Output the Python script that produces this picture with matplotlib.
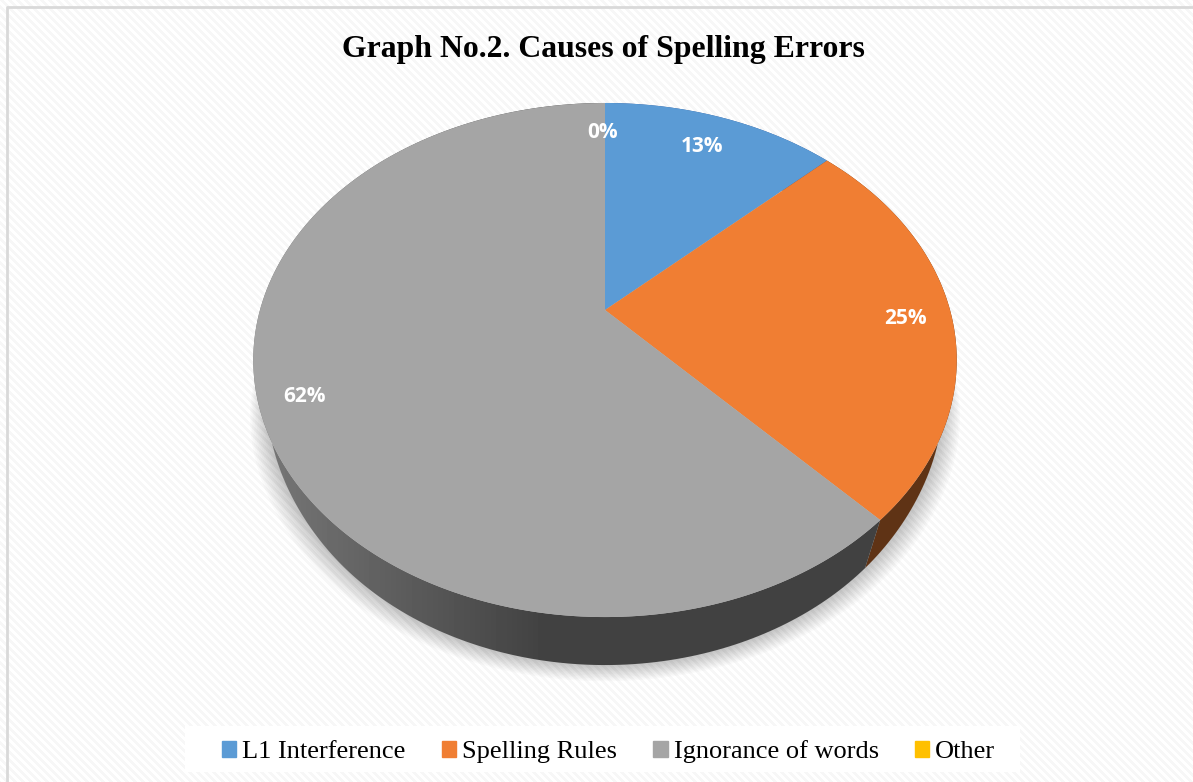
import numpy as np
import matplotlib
matplotlib.use('Agg')
import matplotlib.pyplot as plt
from matplotlib.patches import Patch, Polygon

categories = ['L1 Interference', 'Spelling Rules', 'Ignorance of words', 'Other']
shares = [13, 25, 62, 0]
colors = ['#5B9BD5', '#F07E33', '#A5A5A5', '#FFC000']
wall_colors = ['#2F5597', '#5F3315', None, '#806000']
title = 'Graph No.2. Causes of Spelling Errors'

label_pos = [(702, 146), (905, 319), (304, 396), (603, 133)]

# pie geometry in pixels, the tilt is a projective map of the unit circle
cx, cy = 605, 310
K, k, c = 345, 247.3, 0.1946
depth, shrink = 48, 0.945


def rim(theta, lower=False):
    x, y = np.sin(theta), np.cos(theta)
    d = 1 + c * y
    u, v = K * x / d, k * y / d
    if lower:
        # lower rim bulges a bit at the sides so the wall starts higher up
        s = shrink + 0.018 * np.clip((np.abs(x) - 0.685) / 0.315, 0, 1) ** 3
        return cx + s * u, cy - v + depth
    return cx + u, cy - v


W, H = 1193, 782
fig = plt.figure(figsize=(W / 100, H / 100), dpi=100)
ax = fig.add_axes([0, 0, 1, 1])
ax.set_xlim(0, W)
ax.set_ylim(H, 0)
ax.axis('off')

# striped background
yy, xx = np.mgrid[0:H, 0:W]
stripes = np.where((xx - yy) % 8 < 4, 0.965, 1.0)
ax.imshow(stripes, cmap='gray', vmin=0, vmax=1, extent=(0, W, H, 0), aspect='auto', zorder=0,
          interpolation='bilinear')
# frame, only top and left are inside the picture
ax.plot([7, 7, W], [H, 7, 7], color='#D9D9D9', lw=2, zorder=1)

# soft shadow below the pie
t = np.linspace(0, 2 * np.pi, 400)
lx, ly = rim(t, lower=True)
for grow in np.arange(17, 0, -1.5):
    ax.fill(cx + (lx - cx) * (1 + grow / 335), ly + grow * 0.95, color='black', alpha=0.02, lw=0, zorder=2)

# side wall, only the front part shows
edges = np.cumsum([0] + shares) / 100 * 2 * np.pi
for i in range(len(shares)):
    if shares[i] == 0:
        continue
    a = np.linspace(edges[i], edges[i + 1], 300)
    tx, ty = rim(a)
    bx, by = rim(a, lower=True)
    wall = np.column_stack([np.r_[tx, bx[::-1]], np.r_[ty, by[::-1]]])
    if wall_colors[i] is None:
        grad = np.clip((xx[0] - 270) / 270, 0, 1)
        shade = 0.46 - grad * (0.46 - 0.26)
        im = ax.imshow(shade[None, :], cmap='gray', vmin=0, vmax=1, extent=(0, W, H, 0), aspect='auto', zorder=3)
        im.set_clip_path(Polygon(wall, transform=ax.transData))
    else:
        ax.fill(wall[:, 0], wall[:, 1], color=wall_colors[i], lw=0, zorder=3)

# top face
for i in range(len(shares)):
    a = np.linspace(edges[i], edges[i + 1], 300)
    tx, ty = rim(a)
    ax.fill(np.r_[cx, tx], np.r_[cy, ty], color=colors[i], lw=0, zorder=4)

for i in range(len(shares)):
    ax.text(label_pos[i][0], label_pos[i][1], f'{shares[i]}%', color='white', fontsize=15, fontweight='bold',
            family='Open Sans', ha='center', va='center', zorder=5)

ax.text(603.5, 49, title, family='Liberation Serif', fontweight='bold', fontsize=22.9, ha='center', va='center',
        zorder=5)

ax.set_xlim(0, W)
ax.set_ylim(H, 0)

# legend band
ax.fill([185, 1020, 1020, 185], [726, 726, 772, 772], color='white', lw=0, zorder=5)
handles = [Patch(color=col) for col in colors]
leg = ax.legend(handles, categories, ncol=4, loc='center', bbox_to_anchor=(608.5, 752),
                bbox_transform=ax.transData, frameon=False, handlelength=0.55, handleheight=0.55,
                handletextpad=0.23, columnspacing=1.36,
                prop={'family': 'Liberation Serif', 'size': 19})
leg.set_zorder(6)

fig.savefig('out.png', dpi=100)
